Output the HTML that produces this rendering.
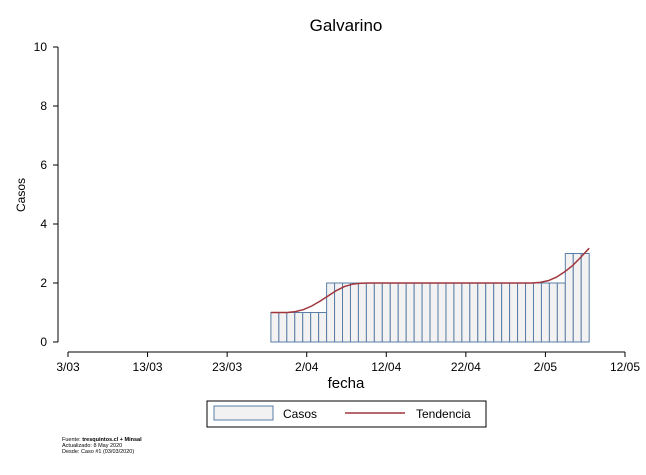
<!DOCTYPE html>
<html><head><meta charset="utf-8"><style>
body{margin:0;background:#fff;font-family:"Liberation Sans",sans-serif}
svg text{font-family:"Liberation Sans",sans-serif}
</style></head><body>
<svg id="c" width="646" height="470">
<text x="346" y="31" font-size="17" text-anchor="middle">Galvarino</text>
<text x="25" y="195" font-size="12" text-anchor="middle" transform="rotate(-90 25 195)">Casos</text>
<text x="346" y="388" font-size="15" text-anchor="middle">fecha</text>
<g id="yax"></g><g id="xax"></g><g id="bars"></g><g id="trend"></g>
<g>
<rect x="207" y="401" width="279" height="26" fill="#fff" stroke="#000" stroke-width="1"/>
<rect x="214" y="406" width="59" height="14" fill="#f2f2f2" stroke="#5a7ea6"/>
<text x="283" y="418" font-size="12">Casos</text>
<line x1="345" y1="413" x2="405" y2="413" stroke="#a0363c" stroke-width="1.5"/>
<text x="416" y="418" font-size="12">Tendencia</text>
</g>
<g font-size="5.5">
<text x="62" y="441">Fuente: <tspan font-weight="bold">tresquintos.cl + Minsal</tspan></text>
<text x="62" y="447">Actualizado: 8 May 2020</text>
<text x="62" y="453">Desde: Caso #1  (03/03/2020)</text>
</g>
</svg>
<script>
const yTicks=[0,2,4,6,8,10];
const xTickDays=[0,10,20,30,40,50,60,70];
const xTickLabels=["3/03","13/03","23/03","2/04","12/04","22/04","2/05","12/05"];
const barStartDay=26;
const casos=[1,1,1,1,1,1,1,2,2,2,2,2,2,2,2,2,2,2,2,2,2,2,2,2,2,2,2,2,2,2,2,2,2,2,2,2,2,3,3,3];
const tendencia=[1,1,1,1.03,1.1,1.22,1.38,1.56,1.74,1.88,1.96,1.99,2,2,2,2,2,2,2,2,2,2,2,2,2,2,2,2,2,2,2,2,2,2.02,2.08,2.2,2.38,2.6,2.88,3.18];
const NS="http://www.w3.org/2000/svg";
const X=d=>68+d*7.957, Y=v=>342-v*29.5;
function mk(t,a,p){const e=document.createElementNS(NS,t);for(const k in a)e.setAttribute(k,a[k]);p.appendChild(e);return e;}
const ya=document.getElementById('yax');
mk('line',{x1:58,y1:Y(0),x2:58,y2:Y(10),stroke:'#000'},ya);
yTicks.forEach(v=>{
 const t=mk('line',{x1:53,y1:Y(v),x2:58,y2:Y(v),stroke:'#000'},ya);
 const l=mk('text',{x:47,y:Y(v)+4,'font-size':12,'text-anchor':'end'},ya);l.textContent=v;
 
 
});
const xa=document.getElementById('xax');
mk('line',{x1:X(0),y1:352,x2:X(70),y2:352,stroke:'#000'},xa);
xTickDays.forEach((d,i)=>{
 mk('line',{x1:X(d),y1:352,x2:X(d),y2:357,stroke:'#000'},xa);
 const l=mk('text',{x:X(d),y:371,'font-size':12,'text-anchor':'middle'},xa);l.textContent=xTickLabels[i];
 
 
});
const bg=document.getElementById('bars');
casos.forEach((v,i)=>{
 const d=barStartDay+i;
 const r=mk('rect',{x:X(d-0.5),y:Y(v),width:7.957,height:Y(0)-Y(v),fill:'#f2f2f2',stroke:'#5a7ea6','stroke-width':1},bg);
 
 
});
const pts=tendencia.map((v,i)=>X(barStartDay+i-0.5+i/(tendencia.length-1))+','+Y(v)).join(' ');
const pl=mk('polyline',{points:pts,fill:'none',stroke:'#a0363c','stroke-width':1.5},document.getElementById('trend'));


</script>
</body></html>
